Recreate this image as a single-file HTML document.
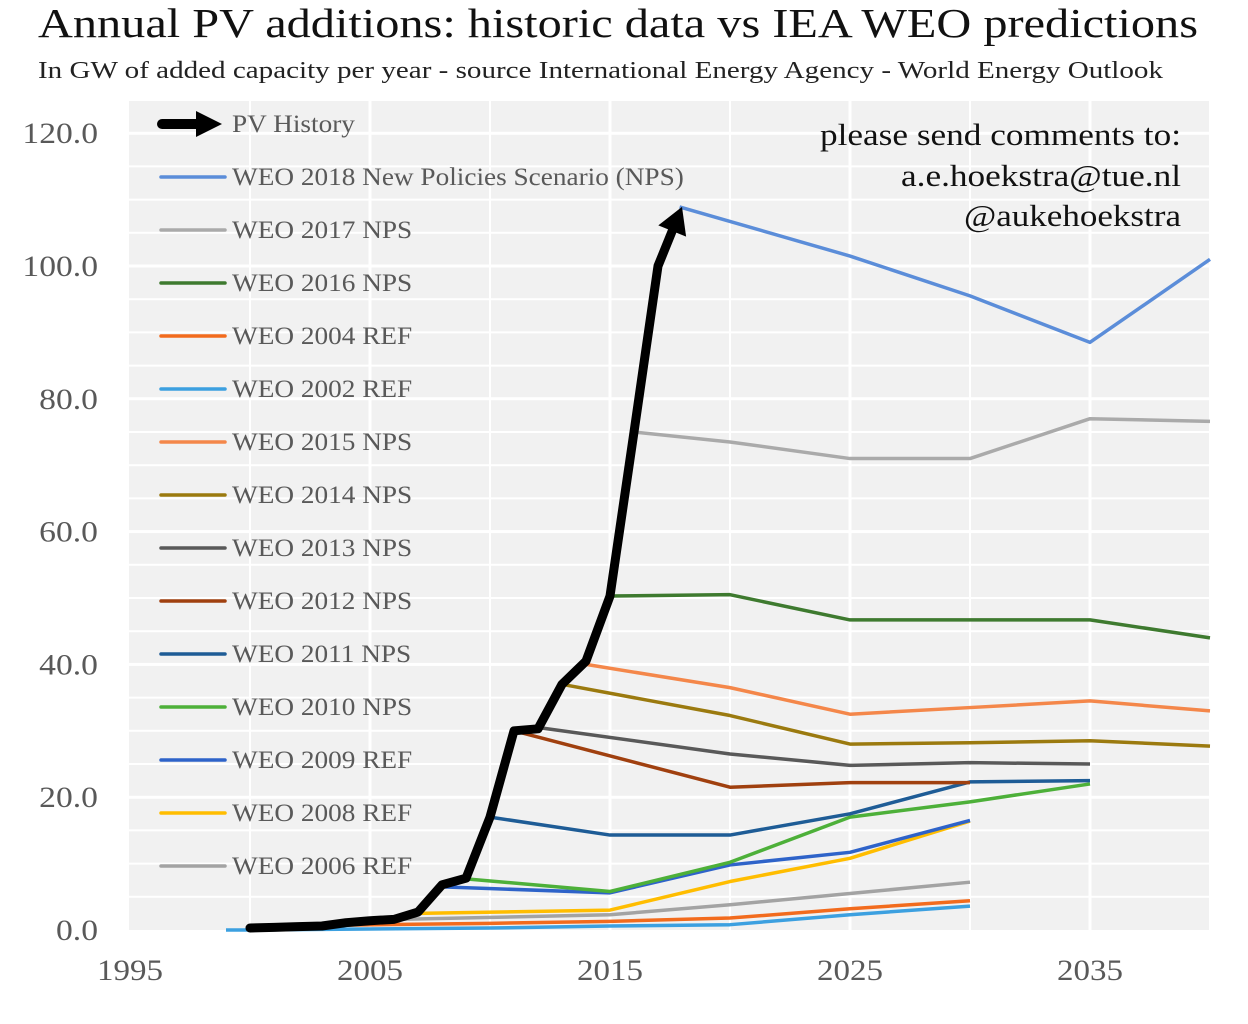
<!DOCTYPE html>
<html><head><meta charset="utf-8">
<style>
html,body{margin:0;padding:0;background:#fff;}
svg{display:block;font-family:"Liberation Serif",serif;}
</style></head>
<body>
<svg id="chart" width="1248" height="1024" xmlns="http://www.w3.org/2000/svg">
<text x="38" y="37" font-size="41" fill="#111" textLength="1160" lengthAdjust="spacingAndGlyphs">Annual PV additions: historic data vs IEA WEO predictions</text>
<text x="38" y="78" font-size="24" fill="#222" textLength="1125" lengthAdjust="spacingAndGlyphs">In GW of added capacity per year - source International Energy Agency - World Energy Outlook</text>
<rect x="129" y="101" width="1081" height="829" fill="#f1f1f1"/>
<g id="grid"></g>
<g id="axes"></g>
<g id="series"></g>
<g id="legend"></g>
<g font-size="31" fill="#111">
<text x="820" y="145" textLength="361" lengthAdjust="spacingAndGlyphs">please send comments to:</text>
<text x="901" y="186" textLength="280" lengthAdjust="spacingAndGlyphs">a.e.hoekstra@tue.nl</text>
<text x="964" y="226" textLength="217" lengthAdjust="spacingAndGlyphs">@aukehoekstra</text>
</g>
</svg>
<script>
const yTicks=[0,20,40,60,80,100,120];
const yTickLabels=["0.0","20.0","40.0","60.0","80.0","100.0","120.0"];
const xTicks=[1995,2005,2015,2025,2035];
const historyYears=[2000,2001,2002,2003,2004,2005,2006,2007,2008,2009,2010,2011,2012,2013,2014,2015,2016,2017,2018];
const historyValues=[0.3,0.4,0.5,0.6,1.1,1.4,1.6,2.7,6.8,7.8,17,30,30.3,37,40.5,50.3,75,100,108.9];
const seriesNames=["WEO 2018 New Policies Scenario (NPS)","WEO 2017 NPS","WEO 2016 NPS","WEO 2004 REF","WEO 2002 REF","WEO 2015 NPS","WEO 2014 NPS","WEO 2013 NPS","WEO 2012 NPS","WEO 2011 NPS","WEO 2010 NPS","WEO 2009 REF","WEO 2008 REF","WEO 2006 REF"];
const seriesColors=["#5b8dd9","#aaaaaa","#3e7a2f","#f26b1d","#3ca0e0","#f4874a","#9b7a0f","#595959","#a0400f","#1e5c96","#4db039","#2e63c9","#ffbd00","#a3a3a3"];
const seriesYears=[
[2017.9,2025,2030,2035,2040],
[2016,2020,2025,2030,2035,2040],
[2015,2020,2025,2030,2035,2040],
[2003,2010,2015,2020,2025,2030],
[1999,2000,2010,2015,2020,2025,2030],
[2014,2020,2025,2030,2035,2040],
[2013,2020,2025,2030,2035,2040],
[2012,2020,2025,2030,2035],
[2011,2020,2025,2030],
[2010,2015,2020,2025,2030,2035],
[2009,2015,2020,2025,2030,2035],
[2008,2015,2020,2025,2030],
[2007,2015,2020,2025,2030],
[2005,2015,2020,2025,2030]];
const seriesValues=[
[108.9,101.5,95.5,88.5,101],
[75,73.5,71,71,77,76.6],
[50.3,50.5,46.7,46.7,46.7,44],
[0.7,1,1.3,1.8,3.2,4.4],
[0,0,0.3,0.6,0.8,2.3,3.6],
[40,36.5,32.5,33.5,34.5,33],
[37,32.3,28,28.2,28.5,27.7],
[30.5,26.5,24.8,25.2,25],
[30,21.5,22.2,22.2],
[17,14.3,14.3,17.5,22.3,22.5],
[7.7,5.8,10.2,17,19.3,22],
[6.5,5.6,9.8,11.7,16.5],
[2.5,3,7.3,10.8,16.4],
[1.5,2.3,3.8,5.5,7.2]];
const NS="http://www.w3.org/2000/svg";
const X0=130,PXY=24,Y0=930,PXV=6.64;
function xs(yr){return X0+(yr-1995)*PXY;}
function ys(v){return Y0-v*PXV;}
function mk(tag,attrs,parent){const e=document.createElementNS(NS,tag);for(const k in attrs)e.setAttribute(k,attrs[k]);parent.appendChild(e);return e;}
function widen(t,f){const w=t.getComputedTextLength();t.setAttribute('textLength',(w*f).toFixed(1));t.setAttribute('lengthAdjust','spacingAndGlyphs');}
const grid=document.getElementById('grid');
for(let v=5;v<=125;v+=5){if(ys(v)<101)break;
 const l=mk('line',{x1:129,x2:1210,y1:ys(v),y2:ys(v),stroke:'#fff','stroke-width':(v%20===0)?3:2},grid);
 
 }
for(let yr=2000;yr<=2040;yr+=5){
 const l=mk('line',{x1:xs(yr),x2:xs(yr),y1:101,y2:930,stroke:'#fff','stroke-width':(yr%10===5)?3:2},grid);
 
 }
const axes=document.getElementById('axes');
yTicks.forEach((v,i)=>{const t=mk('text',{x:98,y:ys(v)+10,'font-size':30,fill:'#595959','text-anchor':'end'},axes);t.textContent=yTickLabels[i];
 
 
 widen(t,1.12);});
xTicks.forEach(yr=>{const t=mk('text',{x:xs(yr),y:980,'font-size':30,fill:'#595959','text-anchor':'middle'},axes);t.textContent=yr;
 
 
 widen(t,1.1);});
const sg=document.getElementById('series');
for(let i=seriesNames.length-1;i>=0;i--){
 const pts=seriesYears[i].map((yr,j)=>xs(yr)+','+ys(seriesValues[i][j])).join(' ');
 const p=mk('polyline',{points:pts,fill:'none',stroke:seriesColors[i],'stroke-width':3.5,'stroke-linejoin':'round'},sg);
 
 }
const hpts=historyYears.slice(0,-1).map((yr,j)=>xs(yr)+','+ys(historyValues[j]));
const n=historyYears.length;
const tx=xs(historyYears[n-1]),ty=ys(historyValues[n-1]);
const px=xs(historyYears[n-2]),py=ys(historyValues[n-2]);
const dx=tx-px,dy=ty-py,len=Math.hypot(dx,dy),ux=dx/len,uy=dy/len;
const bx=tx-ux*26,by=ty-uy*26;
hpts.push(bx+','+by);
const h=mk('polyline',{points:hpts.join(' '),fill:'none',stroke:'#000','stroke-width':9,'stroke-linejoin':'round','stroke-linecap':'round'},sg);


const ah=mk('polygon',{points:`${tx},${ty} ${bx-uy*15},${by+ux*15} ${bx+uy*15},${by-ux*15}`,fill:'#000'},sg);


const lg=document.getElementById('legend');
const names=["PV History"].concat(seriesNames);
names.forEach((nm,i)=>{const y=124+i*53;
 const g=mk('g',{},lg);
 
 
 if(i===0){mk('line',{x1:162,x2:200,y1:y,y2:y,stroke:'#000','stroke-width':10,'stroke-linecap':'round'},g);
  mk('polygon',{points:`222,${y} 196,${y-13} 196,${y+13}`,fill:'#000'},g);}
 else mk('line',{x1:161,x2:225,y1:y,y2:y,stroke:seriesColors[i-1],'stroke-width':3.5,'stroke-linecap':'round'},g);
 const t=mk('text',{x:232,y:y+8,'font-size':25,fill:'#595959'},g);t.textContent=nm;
 widen(t,1.09);});
</script>
</body></html>
